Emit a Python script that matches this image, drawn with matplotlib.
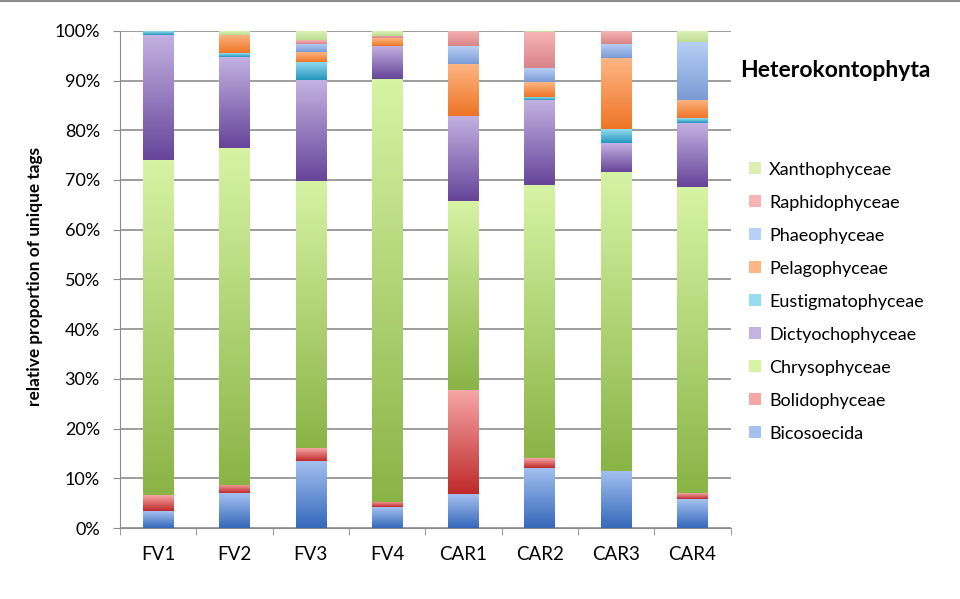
import numpy as np
import matplotlib
matplotlib.use('Agg')
import matplotlib.pyplot as plt
from matplotlib.colors import LinearSegmentedColormap
from matplotlib.patches import Patch
from matplotlib.ticker import PercentFormatter

plt.rcParams['font.family'] = ['Lato', 'DejaVu Sans']

samples = ['FV1', 'FV2', 'FV3', 'FV4', 'CAR1', 'CAR2', 'CAR3', 'CAR4']

# percent of unique tags, stacked bottom -> top
bicosoecida       = [3.4, 7.0, 13.5, 4.2, 6.8, 12.1, 11.5, 5.8]
bolidophyceae     = [3.2, 1.7, 2.5, 1.1, 21.0, 2.0, 0.0, 1.2]
chrysophyceae     = [67.4, 67.7, 53.8, 85.0, 37.9, 54.8, 60.1, 61.5]
dictyochophyceae  = [25.2, 18.4, 20.3, 6.7, 17.2, 17.2, 5.8, 12.9]
eustigmatophyceae = [0.8, 0.7, 3.7, 0.0, 0.0, 0.6, 2.8, 1.0]
pelagophyceae     = [0.0, 3.7, 1.9, 1.5, 10.5, 3.0, 14.3, 3.7]
phaeophyceae      = [0.0, 0.0, 1.7, 0.0, 3.5, 2.8, 2.9, 11.7]
raphidophyceae    = [0.0, 0.0, 0.8, 0.5, 3.1, 7.2, 2.6, 0.0]
xanthophyceae     = [0.0, 0.8, 1.8, 1.0, 0.0, 0.3, 0.0, 2.2]

groups = ['Bicosoecida', 'Bolidophyceae', 'Chrysophyceae', 'Dictyochophyceae',
          'Eustigmatophyceae', 'Pelagophyceae', 'Phaeophyceae', 'Raphidophyceae',
          'Xanthophyceae']
values = [bicosoecida, bolidophyceae, chrysophyceae, dictyochophyceae,
          eustigmatophyceae, pelagophyceae, phaeophyceae, raphidophyceae,
          xanthophyceae]

# (dark bottom, light top) like excel gradient fill
colors = [('#3569bb', '#a4c0f0'),
          ('#bf2a2a', '#f7a6a6'),
          ('#8ab446', '#d6f3a4'),
          ('#66459a', '#c4b2e2'),
          ('#2496bd', '#94dcf2'),
          ('#ef7525', '#fdb684'),
          ('#7b9bd6', '#b8d0f6'),
          ('#d98488', '#f7b4b4'),
          ('#bcdc92', '#dcf0b6')]

fig = plt.figure(figsize=(9.6, 5.99), dpi=100)
ax = fig.add_axes([0.125, 0.1185, 0.636, 0.83])

x = np.arange(len(samples))
w = 0.4
bottom = np.zeros(len(samples))
grad = np.linspace(0, 1, 100).reshape(-1, 1)

for name, vals, (c0, c1) in zip(groups, values, colors):
    v = np.array(vals) / 100
    bars = ax.bar(x, v, w, bottom=bottom, color=c0, edgecolor='none', zorder=2)
    cmap = LinearSegmentedColormap.from_list(name, [c0, c1])
    for b in bars:
        if b.get_height() <= 0:
            continue
        x0, y0 = b.get_x(), b.get_y()
        im = ax.imshow(grad, extent=[x0, x0 + w, y0, y0 + b.get_height()],
                       origin='lower', aspect='auto', cmap=cmap, zorder=3)
        im.set_clip_path(b)
    bottom += v

ax.set_xlim(-0.5, len(samples) - 0.5)
ax.set_ylim(0, 1)
ax.set_aspect('auto')

ax.yaxis.set_major_formatter(PercentFormatter(1.0, decimals=0))
ax.set_yticks(np.arange(0, 1.01, 0.1))
ax.grid(axis='y', color='#8c8c8c', linewidth=1.2, zorder=0)
ax.set_axisbelow(True)

ax.set_xticks(x)
ax.set_xticklabels(samples)
ax.set_xticks(np.arange(-0.5, len(samples)), minor=True)
ax.tick_params(axis='x', which='major', length=0, pad=13, labelsize=13.5)
ax.tick_params(axis='x', which='minor', length=5, color='#8c8c8c', direction='out')
ax.tick_params(axis='y', length=5, color='#8c8c8c', labelsize=13, pad=9.5)

for s in ['top', 'right']:
    ax.spines[s].set_visible(False)
for s in ['left', 'bottom']:
    ax.spines[s].set_color('#8c8c8c')

ax.set_ylabel('relative proportion of unique tags', fontsize=12.4,
              fontweight='bold')
ax.yaxis.set_label_coords(-0.126, 0.505)

fig.text(0.771, 0.882, 'Heterokontophyta', fontsize=16.5, fontweight='bold',
         va='center', ha='left')

handles = [Patch(facecolor=colors[i][1], edgecolor='none') for i in range(len(groups))][::-1]
leg = fig.legend(handles, groups[::-1], loc='upper left',
                 bbox_to_anchor=(0.773, 0.742), frameon=False, fontsize=13,
                 handlelength=0.65, handleheight=0.65, handletextpad=0.45,
                 labelspacing=0.94, borderaxespad=0)

# thin frame line at the top of the picture
fig.add_artist(plt.Line2D([0, 1], [0.998, 0.998], color='#8c8c8c', linewidth=1.5))

fig.savefig('out.png', dpi=100)
